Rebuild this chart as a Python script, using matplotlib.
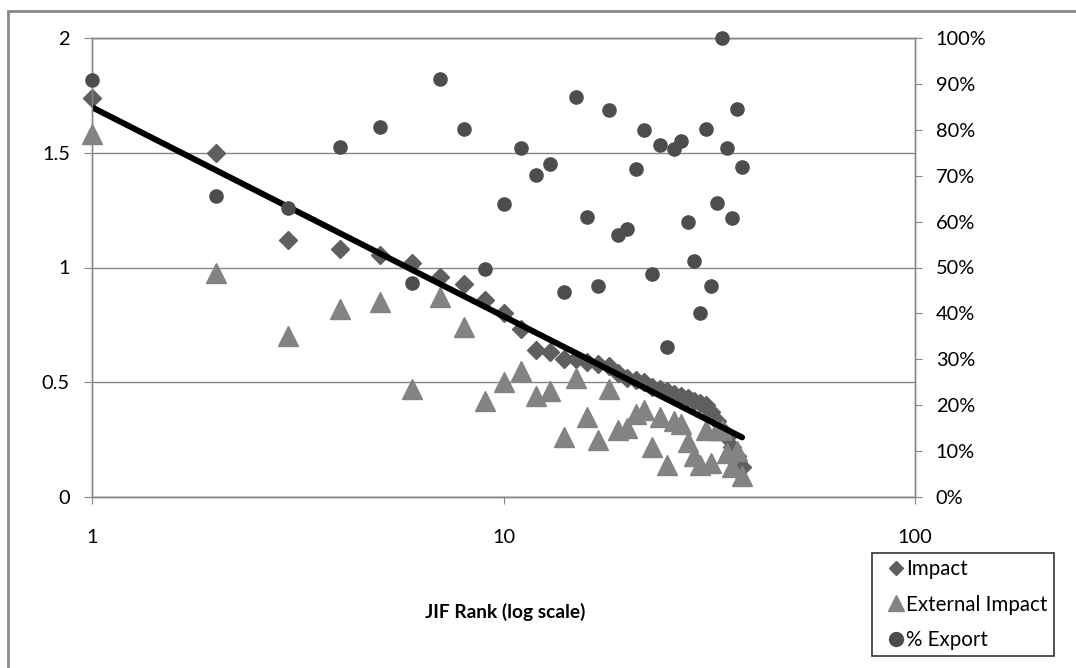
import numpy as np
import matplotlib
matplotlib.use("Agg")
import matplotlib.pyplot as plt
from matplotlib.lines import Line2D
from matplotlib.patches import Rectangle
from matplotlib.ticker import FixedLocator, FuncFormatter, NullLocator

plt.rcParams['font.family'] = ['Lato', 'DejaVu Sans']

# journals ranked by JIF
rank = list(range(1, 39))
impact = [1.74, 1.50, 1.12, 1.08, 1.055, 1.02, 0.96, 0.93, 0.86, 0.80,
          0.73, 0.64, 0.63, 0.60, 0.60, 0.59, 0.58, 0.57, 0.54, 0.52,
          0.51, 0.50, 0.48, 0.47, 0.46, 0.45, 0.44, 0.43, 0.42, 0.41,
          0.40, 0.37, 0.33, 0.29, 0.26, 0.22, 0.18, 0.13]
external = [1.58, 0.976, 0.70, 0.82, 0.85, 0.47, 0.87, 0.74, 0.42, 0.50,
            0.55, 0.44, 0.46, 0.26, 0.52, 0.35, 0.25, 0.47, 0.29, 0.30,
            0.36, 0.38, 0.22, 0.35, 0.14, 0.33, 0.32, 0.24, 0.18, 0.14,
            0.29, 0.15, 0.29, 0.29, 0.19, 0.13, 0.20, 0.09]
export = [0.908, 0.656, 0.63, 0.763, 0.806, 0.466, 0.91, 0.802, 0.497, 0.638,
          0.76, 0.702, 0.725, 0.447, 0.871, 0.61, 0.46, 0.843, 0.57, 0.584,
          0.715, 0.80, 0.486, 0.767, 0.327, 0.758, 0.776, 0.60, 0.514, 0.40,
          0.802, 0.46, 0.64, 1.00, 0.76, 0.608, 0.845, 0.719]

x_ticks = [1, 10, 100]
left_ticks = [0, 0.5, 1, 1.5, 2]
right_ticks = [i / 10 for i in range(11)]

grid_col = '#868686'
fs = 14.4

fig = plt.figure(figsize=(10.76, 6.68), dpi=100)
W, H = 1076, 668
l, r, t, b = 92, 915, 38, 497
ax = fig.add_axes([l / W, 1 - b / H, (r - l) / W, (b - t) / H])

# log trendline of impact
coef = np.polyfit(np.log(rank), impact, 1)
xs = np.linspace(rank[0], rank[-1], 200)

ax.plot(rank, impact, ls='none', marker='D', ms=9.5, color='#5f5f5f',
        zorder=3, clip_on=False)
ax.plot(rank, external, ls='none', marker='^', ms=14, color='#838383',
        zorder=4, clip_on=False)
ax.plot(xs, np.polyval(coef, np.log(xs)), color='black', lw=4.3, zorder=5,
        solid_capstyle='round')

ax.set_xscale('log')
ax.set_xlim(1, 100)
ax.set_ylim(0, 2)
ax.xaxis.set_major_locator(FixedLocator(x_ticks))
ax.xaxis.set_minor_locator(NullLocator())
ax.xaxis.set_major_formatter(FuncFormatter(lambda v, p: f'{v:g}'))
ax.set_yticks(left_ticks)
ax.yaxis.set_major_formatter(FuncFormatter(lambda v, p: f'{v:g}'))
ax.grid(axis='y', color=grid_col, lw=1.0)
ax.set_axisbelow(True)

for side in ['left', 'bottom', 'right', 'top']:
    ax.spines[side].set_color(grid_col)
    ax.spines[side].set_linewidth(1.0)

ax.tick_params(axis='y', direction='out', length=6, color=grid_col,
               labelsize=fs, pad=10)
ax.tick_params(axis='x', direction='out', length=5, color=grid_col,
               labelsize=fs, pad=18)

ax2 = ax.twinx()
ax2.plot(rank, export, ls='none', marker='o', ms=9.5, color='#4d4d4d',
         zorder=3, clip_on=False)
ax2.set_ylim(0, 1)
ax2.set_yticks(right_ticks)
ax2.yaxis.set_major_formatter(FuncFormatter(lambda v, p: f'{v * 100:.0f}%'))
ax2.tick_params(axis='y', direction='out', length=5, color=grid_col,
                labelsize=fs, pad=10)
for side in ['left', 'bottom', 'right', 'top']:
    ax2.spines[side].set_color(grid_col)
    ax2.spines[side].set_linewidth(1.0)

fig.text(505 / W, 1 - 612 / H, 'JIF Rank (log scale)', ha='center',
         va='center', fontsize=13.8, fontweight='bold')

# chart border
fig.patches.append(Rectangle((8 / W, -0.1), 1.2, 1 - 11 / H + 0.1,
                             transform=fig.transFigure, fill=False,
                             edgecolor='#8a8a8a', lw=2))

handles = [
    Line2D([], [], ls='none', marker='D', ms=7.5, color='#5f5f5f', label='Impact'),
    Line2D([], [], ls='none', marker='^', ms=11, color='#838383', label='External Impact'),
    Line2D([], [], ls='none', marker='o', ms=10, color='#4d4d4d', label='% Export'),
]
leg = fig.legend(handles=handles, loc='upper left',
                 bbox_to_anchor=(872 / W, 1 - 553 / H), fontsize=14.8,
                 frameon=True, fancybox=False, handlelength=1.7,
                 handletextpad=-0.34, borderpad=0.3, labelspacing=0.75,
                 borderaxespad=0)
leg.get_frame().set_edgecolor('black')
leg.get_frame().set_linewidth(1.2)

fig.savefig('out.png', dpi=100)
